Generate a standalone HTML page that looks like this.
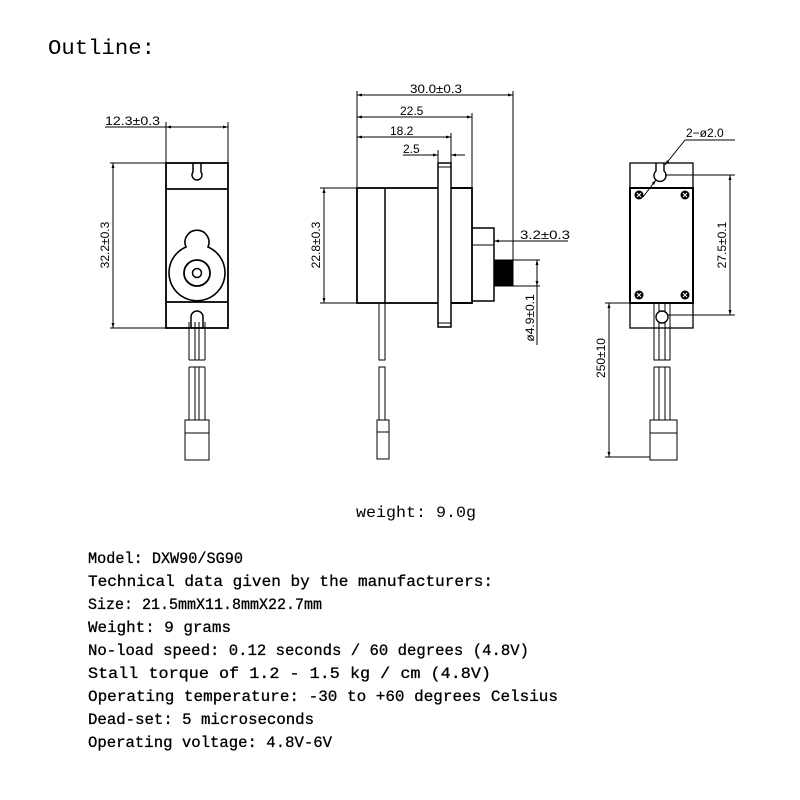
<!DOCTYPE html>
<html><head><meta charset="utf-8"><style>html,body{margin:0;padding:0;background:#fff}svg{display:block}</style></head>
<body>
<svg width="800" height="800" viewBox="0 0 800 800" xmlns="http://www.w3.org/2000/svg">
<defs>
<marker id="a" viewBox="0 0 10 10" refX="10" refY="5" markerWidth="7" markerHeight="5" orient="auto-start-reverse"><path d="M0,2 L10,5 L0,8 z" fill="#000"/></marker>
</defs>
<rect width="800" height="800" fill="#fff"/>
<text x="48" y="54" font-family="Liberation Mono, monospace" font-size="21" textLength="107" lengthAdjust="spacingAndGlyphs">Outline:</text>

<g fill="none" stroke="#000" stroke-width="1">
<rect x="166" y="163" width="62" height="165" stroke-width="1.8"/>
<line x1="166" y1="189" x2="228" y2="189" stroke-width="1.8"/>
<line x1="166" y1="302" x2="228" y2="302" stroke-width="1.8"/>
<path d="M193,163 L193,172 A5,5 0 1 0 201,172 L201,163" stroke-width="1.5"/>
<path d="M186,247 A12,12 0 1 1 208,247 A28,28 0 1 1 186,247 Z" stroke-width="1.6"/>
<circle cx="197" cy="273" r="13" stroke-width="1.8"/>
<circle cx="197" cy="273" r="4.5" stroke-width="1.5"/>
<path d="M191,328 L191,317 A6,6 0 1 1 203,317 L203,328" stroke-width="1.5"/>
<path d="M189,322 V360 M195,322 V360 M199,322 V360 M205,322 V360 M189,360 H205"/>
<path d="M189,367 V420 M195,367 V420 M199,367 V420 M205,367 V420 M189,367 H205"/>
<rect x="185" y="420" width="24" height="40"/>
<line x1="185" y1="433" x2="209" y2="433"/>
<line x1="166" y1="122" x2="166" y2="163"/>
<line x1="228" y1="122" x2="228" y2="163"/>
<line x1="105" y1="127" x2="166" y2="127"/>
<line x1="166" y1="127" x2="228" y2="127" marker-start="url(#a)" marker-end="url(#a)"/>
<line x1="110" y1="163" x2="166" y2="163"/>
<line x1="110" y1="328" x2="166" y2="328"/>
<line x1="113" y1="163" x2="113" y2="328" marker-start="url(#a)" marker-end="url(#a)"/>

<rect x="357" y="188" width="115" height="115" stroke-width="1.8"/>
<line x1="385" y1="188" x2="385" y2="303" stroke-width="1.5"/>
<rect x="438" y="163" width="13" height="164" fill="#fff" stroke-width="1.5"/>
<line x1="438" y1="167" x2="451" y2="167"/>
<line x1="438" y1="323" x2="451" y2="323"/>
<line x1="451" y1="188" x2="472" y2="188" stroke-width="1.8"/>
<line x1="451" y1="303" x2="472" y2="303" stroke-width="1.8"/>
<path d="M472,228 H494 V301 H472" stroke-width="1.5"/>
<line x1="472" y1="245" x2="494" y2="245"/>
<rect x="494" y="260" width="19" height="26" fill="#000"/>
<path d="M513,260 H540 M513,286 H540"/>
<rect x="379" y="303" width="6" height="57"/>
<rect x="379" y="367" width="6" height="53"/>
<rect x="377" y="420" width="12" height="39"/>
<line x1="377" y1="432" x2="389" y2="432"/>
<line x1="357" y1="91" x2="357" y2="188"/>
<line x1="513" y1="91" x2="513" y2="260"/>
<line x1="472" y1="113" x2="472" y2="188"/>
<line x1="451" y1="133" x2="451" y2="163"/>
<line x1="438" y1="150" x2="438" y2="163"/>
<line x1="357" y1="95" x2="513" y2="95" marker-start="url(#a)" marker-end="url(#a)"/>
<line x1="357" y1="117" x2="472" y2="117" marker-start="url(#a)" marker-end="url(#a)"/>
<line x1="357" y1="137" x2="451" y2="137" marker-start="url(#a)" marker-end="url(#a)"/>
<line x1="403" y1="155" x2="438" y2="155" marker-end="url(#a)"/>
<line x1="465" y1="155" x2="451" y2="155" marker-end="url(#a)"/>
<line x1="568" y1="241" x2="494" y2="241" marker-end="url(#a)"/>
<line x1="537" y1="260" x2="537" y2="286" marker-start="url(#a)" marker-end="url(#a)"/>
<line x1="537" y1="286" x2="537" y2="345"/>
<line x1="320" y1="188" x2="357" y2="188"/>
<line x1="320" y1="303" x2="357" y2="303"/>
<line x1="324" y1="188" x2="324" y2="303" marker-start="url(#a)" marker-end="url(#a)"/>

<rect x="630" y="163" width="63" height="165" stroke-width="1.3"/>
<rect x="630" y="188" width="63" height="115" stroke-width="2"/>
<path d="M656,163 L656,171 A6,6 0 1 0 664,171 L664,163" stroke-width="1.4"/>
<rect x="654" y="303" width="16" height="57"/>
<path d="M659,303 V360 M665,303 V360"/>
<circle cx="662" cy="317" r="6" fill="#fff" stroke-width="1.4"/>
<path d="M654,367 V420 M659,367 V420 M665,367 V420 M670,367 V420 M654,367 H670"/>
<rect x="650" y="420" width="27" height="40"/>
<line x1="650" y1="433" x2="677" y2="433"/>
<line x1="685" y1="140" x2="735" y2="140"/>
<line x1="685" y1="140" x2="665" y2="165" marker-end="url(#a)"/>
<line x1="656" y1="180" x2="643" y2="197" marker-start="url(#a)"/>
<line x1="665" y1="175" x2="735" y2="175"/>
<line x1="668" y1="315" x2="735" y2="315"/>
<line x1="730" y1="175" x2="730" y2="315" marker-start="url(#a)" marker-end="url(#a)"/>
<line x1="605" y1="303" x2="654" y2="303"/>
<line x1="605" y1="457" x2="650" y2="457"/>
<line x1="609" y1="303" x2="609" y2="457" marker-start="url(#a)" marker-end="url(#a)"/>
</g>
<g fill="#000">
<circle cx="639" cy="195" r="4.5"/><circle cx="685" cy="195" r="4.5"/>
<circle cx="639" cy="295" r="4.5"/><circle cx="685" cy="295" r="4.5"/>
</g>
<g stroke="#fff" stroke-width="1">
<path d="M637,193 l4,4 M641,193 l-4,4 M683,193 l4,4 M687,193 l-4,4 M637,293 l4,4 M641,293 l-4,4 M683,293 l4,4 M687,293 l-4,4"/>
</g>

<g font-family="Liberation Sans, sans-serif" font-size="12" fill="#000">
<text x="105" y="125" textLength="55" lengthAdjust="spacingAndGlyphs">12.3±0.3</text>
<text transform="translate(109,245) rotate(-90)" text-anchor="middle">32.2±0.3</text>
<text x="410" y="93" textLength="52" lengthAdjust="spacingAndGlyphs">30.0±0.3</text>
<text x="400" y="115">22.5</text>
<text x="390" y="135">18.2</text>
<text x="403" y="153">2.5</text>
<text x="520" y="239" textLength="50" lengthAdjust="spacingAndGlyphs">3.2±0.3</text>
<text transform="translate(534,318) rotate(-90)" text-anchor="middle">ø4.9±0.1</text>
<text transform="translate(320,245) rotate(-90)" text-anchor="middle">22.8±0.3</text>
<text x="686" y="137">2−ø2.0</text>
<text transform="translate(726,245) rotate(-90)" text-anchor="middle">27.5±0.1</text>
<text transform="translate(605,358) rotate(-90)" text-anchor="middle">250±10</text>
</g>

<g font-family="Liberation Mono, monospace" font-size="16" fill="#000" stroke="#000" stroke-width="0.3">
<text x="356" y="517" stroke="none" textLength="120" lengthAdjust="spacingAndGlyphs">weight: 9.0g</text>
<text x="88" y="563" textLength="155" lengthAdjust="spacingAndGlyphs">Model: DXW90/SG90</text>
<text x="88" y="586" textLength="405" lengthAdjust="spacingAndGlyphs">Technical data given by the manufacturers:</text>
<text x="88" y="609" textLength="234" lengthAdjust="spacingAndGlyphs">Size: 21.5mmX11.8mmX22.7mm</text>
<text x="88" y="632" textLength="143" lengthAdjust="spacingAndGlyphs">Weight: 9 grams</text>
<text x="88" y="655" textLength="441" lengthAdjust="spacingAndGlyphs">No-load speed: 0.12 seconds / 60 degrees (4.8V)</text>
<text x="88" y="678" textLength="403" lengthAdjust="spacingAndGlyphs">Stall torque of 1.2 - 1.5 kg / cm (4.8V)</text>
<text x="88" y="701" textLength="470" lengthAdjust="spacingAndGlyphs">Operating temperature: -30 to +60 degrees Celsius</text>
<text x="88" y="724" textLength="226" lengthAdjust="spacingAndGlyphs">Dead-set: 5 microseconds</text>
<text x="88" y="747" textLength="244" lengthAdjust="spacingAndGlyphs">Operating voltage: 4.8V-6V</text>
</g>
</svg>
</body></html>
